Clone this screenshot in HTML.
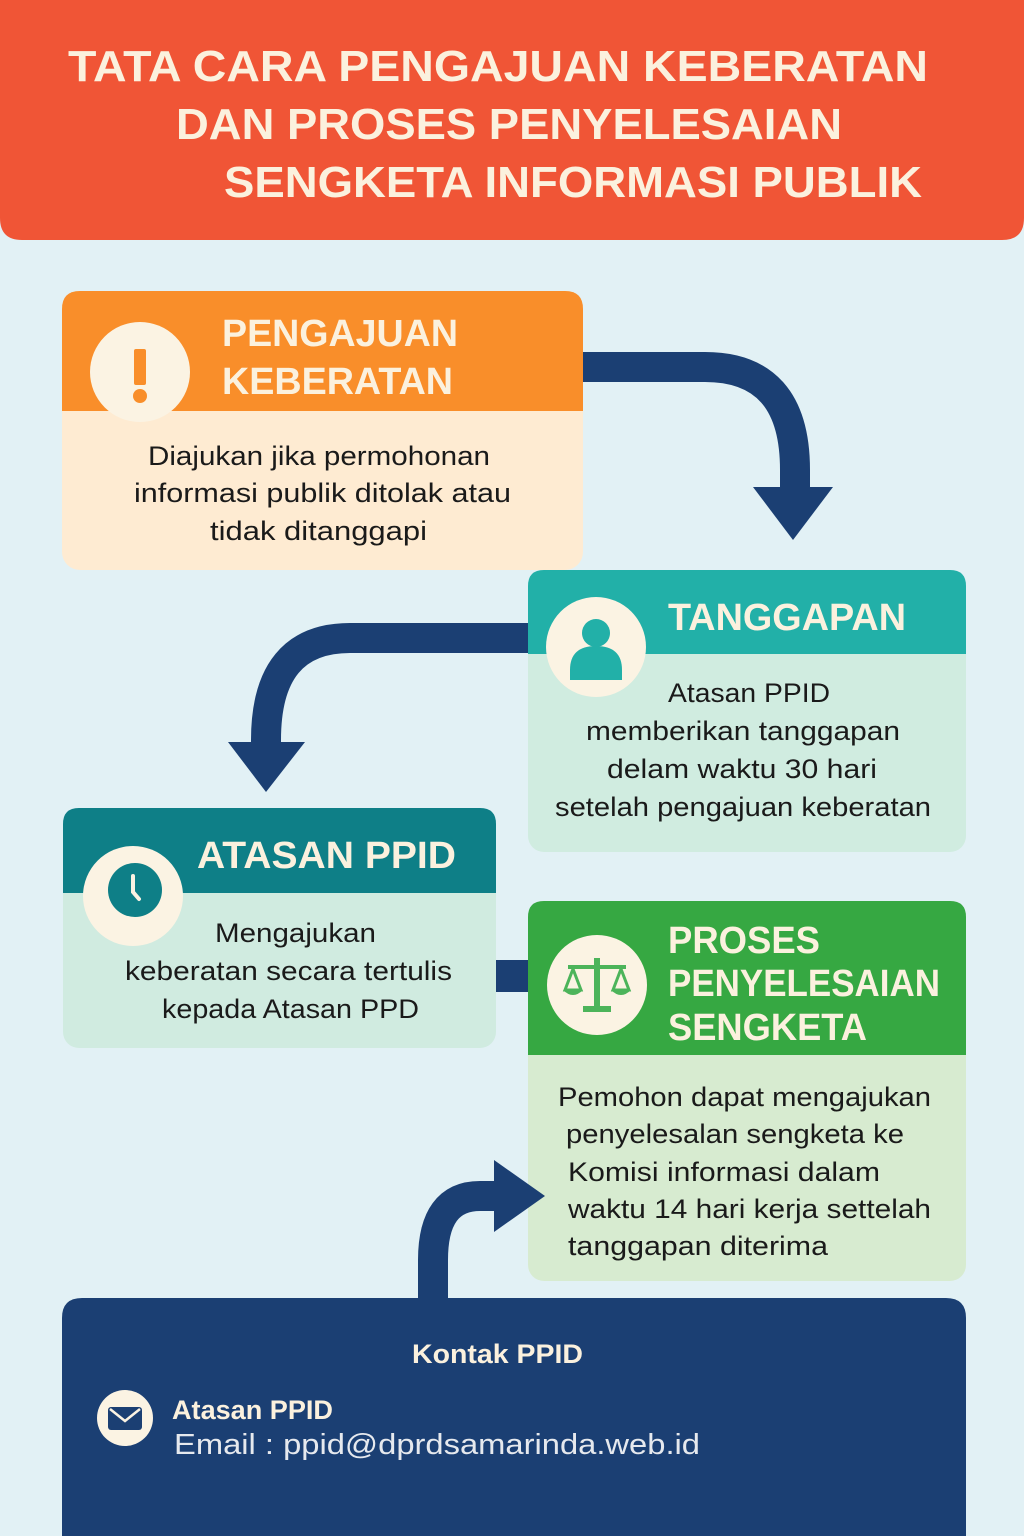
<!DOCTYPE html>
<html><head><meta charset="utf-8"><style>
html,body{margin:0;padding:0;background:#E2F1F5}
svg{display:block}
text{font-family:"Liberation Sans",sans-serif}
.h{font-weight:bold;fill:#FBF1DE}
.b{fill:#1a1a1a;font-size:27px}
</style></head><body>
<svg width="1024" height="1536" viewBox="0 0 1024 1536" xmlns="http://www.w3.org/2000/svg">
<rect width="1024" height="1536" fill="#E2F1F5"/>
<!-- header -->
<path d="M0 0H1024V218Q1024 240 1002 240H22Q0 240 0 218Z" fill="#F05536"/>
<text class="h" x="68" y="81" font-size="44" textLength="860" lengthAdjust="spacingAndGlyphs">TATA CARA PENGAJUAN KEBERATAN</text>
<text class="h" x="176" y="139" font-size="44" textLength="666" lengthAdjust="spacingAndGlyphs">DAN PROSES PENYELESAIAN</text>
<text class="h" x="224" y="197" font-size="44" textLength="698" lengthAdjust="spacingAndGlyphs">SENGKETA INFORMASI PUBLIK</text>

<!-- arrows -->
<g fill="none" stroke="#1B3F73" stroke-width="30">
<path d="M583 367H705Q795 367 795 470V490"/>
<path d="M528 638H350Q266 638 266 740V745"/>
</g>
<g fill="#1B3F73">
<polygon points="753,487 833,487 793,540"/>
<polygon points="228,742 305,742 266,792"/>
<rect x="494" y="960" width="36" height="32"/>
</g>

<!-- box1 -->
<rect x="62" y="291" width="521" height="279" rx="18" fill="#FEEBD2"/>
<path d="M62 411V309Q62 291 80 291H565Q583 291 583 309V411Z" fill="#F98E2A"/>
<circle cx="140" cy="372" r="50" fill="#FBF3E3"/>
<rect x="134" y="349" width="12" height="36" rx="2" fill="#F98E2A"/>
<circle cx="140" cy="396" r="7" fill="#F98E2A"/>
<text class="h" x="222" y="346" font-size="38" textLength="236" lengthAdjust="spacingAndGlyphs">PENGAJUAN</text>
<text class="h" x="222" y="394" font-size="38" textLength="231" lengthAdjust="spacingAndGlyphs">KEBERATAN</text>
<text class="b" x="148" y="465" textLength="342" lengthAdjust="spacingAndGlyphs">Diajukan jika permohonan</text>
<text class="b" x="134" y="502" textLength="377" lengthAdjust="spacingAndGlyphs">informasi publik ditolak atau</text>
<text class="b" x="210" y="540" textLength="217" lengthAdjust="spacingAndGlyphs">tidak ditanggapi</text>

<!-- box2 -->
<rect x="528" y="570" width="438" height="282" rx="16" fill="#D0ECE0"/>
<path d="M528 654V586Q528 570 544 570H950Q966 570 966 586V654Z" fill="#22B0A8"/>
<circle cx="596" cy="647" r="50" fill="#FBF3E3"/>
<circle cx="596" cy="633" r="14" fill="#22B0A8"/>
<path d="M570 680V670Q570 646 596 646Q622 646 622 670V680Z" fill="#22B0A8"/>
<text class="h" x="668" y="630" font-size="38" textLength="238" lengthAdjust="spacingAndGlyphs">TANGGAPAN</text>
<text class="b" x="668" y="702" textLength="162" lengthAdjust="spacingAndGlyphs">Atasan PPID</text>
<text class="b" x="586" y="740" textLength="314" lengthAdjust="spacingAndGlyphs">memberikan tanggapan</text>
<text class="b" x="607" y="778" textLength="270" lengthAdjust="spacingAndGlyphs">delam waktu 30 hari</text>
<text class="b" x="555" y="816" textLength="376" lengthAdjust="spacingAndGlyphs">setelah pengajuan keberatan</text>

<!-- box3 -->
<rect x="63" y="808" width="433" height="240" rx="16" fill="#D0EBE0"/>
<path d="M63 893V824Q63 808 79 808H480Q496 808 496 824V893Z" fill="#0E7F87"/>
<circle cx="133" cy="896" r="50" fill="#FBF3E3"/>
<circle cx="135" cy="890" r="27" fill="#0E7F87"/>
<path d="M133 876V892L139 899" stroke="#FBF3E3" stroke-width="4" fill="none" stroke-linecap="round"/>
<text class="h" x="197" y="868" font-size="38" textLength="259" lengthAdjust="spacingAndGlyphs">ATASAN PPID</text>
<text class="b" x="215" y="942" textLength="161" lengthAdjust="spacingAndGlyphs">Mengajukan</text>
<text class="b" x="125" y="980" textLength="327" lengthAdjust="spacingAndGlyphs">keberatan secara tertulis</text>
<text class="b" x="162" y="1018" textLength="257" lengthAdjust="spacingAndGlyphs">kepada Atasan PPD</text>

<!-- box4 -->
<rect x="528" y="901" width="438" height="380" rx="16" fill="#D7EBD0"/>
<path d="M528 1055V917Q528 901 544 901H950Q966 901 966 917V1055Z" fill="#36A842"/>
<circle cx="597" cy="985" r="50" fill="#FBF3E3"/>
<g fill="#4CB45A" stroke="#4CB45A">
<rect x="594" y="958" width="6" height="50" stroke="none"/>
<rect x="583" y="1006" width="28" height="6" stroke="none"/>
<rect x="568" y="965" width="58" height="4" stroke="none"/>
<path d="M565 990L573 969L581 990Z" fill="none" stroke-width="3"/>
<path d="M613 990L621 969L629 990Z" fill="none" stroke-width="3"/>
<path d="M563 990H583Q573 1000 563 990Z" stroke="none"/>
<path d="M611 990H631Q621 1000 611 990Z" stroke="none"/>
</g>
<text class="h" x="668" y="953" font-size="38" textLength="152" lengthAdjust="spacingAndGlyphs">PROSES</text>
<text class="h" x="668" y="996" font-size="38" textLength="272" lengthAdjust="spacingAndGlyphs">PENYELESAIAN</text>
<text class="h" x="668" y="1040" font-size="38" textLength="199" lengthAdjust="spacingAndGlyphs">SENGKETA</text>
<text class="b" x="558" y="1106" textLength="373" lengthAdjust="spacingAndGlyphs">Pemohon dapat mengajukan</text>
<text class="b" x="566" y="1143" textLength="338" lengthAdjust="spacingAndGlyphs">penyelesalan sengketa ke</text>
<text class="b" x="568" y="1181" textLength="312" lengthAdjust="spacingAndGlyphs">Komisi informasi dalam</text>
<text class="b" x="568" y="1218" textLength="363" lengthAdjust="spacingAndGlyphs">waktu 14 hari kerja settelah</text>
<text class="b" x="568" y="1255" textLength="260" lengthAdjust="spacingAndGlyphs">tanggapan diterima</text>

<!-- arrow 3 on top -->
<path d="M433 1300V1260Q433 1196 480 1196H500" fill="none" stroke="#1B3F73" stroke-width="30"/>
<polygon points="494,1160 494,1232 545,1196" fill="#1B3F73"/>

<!-- bottom -->
<path d="M62 1536V1318Q62 1298 82 1298H946Q966 1298 966 1318V1536Z" fill="#1B3F73"/>
<text class="h" x="412" y="1363" font-size="27" textLength="171" lengthAdjust="spacingAndGlyphs">Kontak PPID</text>
<circle cx="125" cy="1418" r="28" fill="#FBF3E3"/>
<rect x="108" y="1407" width="34" height="23" rx="3" fill="#1B3F73"/>
<path d="M110 1409L125 1421L140 1409" stroke="#FBF3E3" stroke-width="2.5" fill="none"/>
<text class="h" x="172" y="1419" font-size="27" textLength="161" lengthAdjust="spacingAndGlyphs">Atasan PPID</text>
<text x="174" y="1454" font-size="29" fill="#E6E9EE" textLength="526" lengthAdjust="spacingAndGlyphs">Email : ppid@dprdsamarinda.web.id</text>
</svg>
</body></html>
